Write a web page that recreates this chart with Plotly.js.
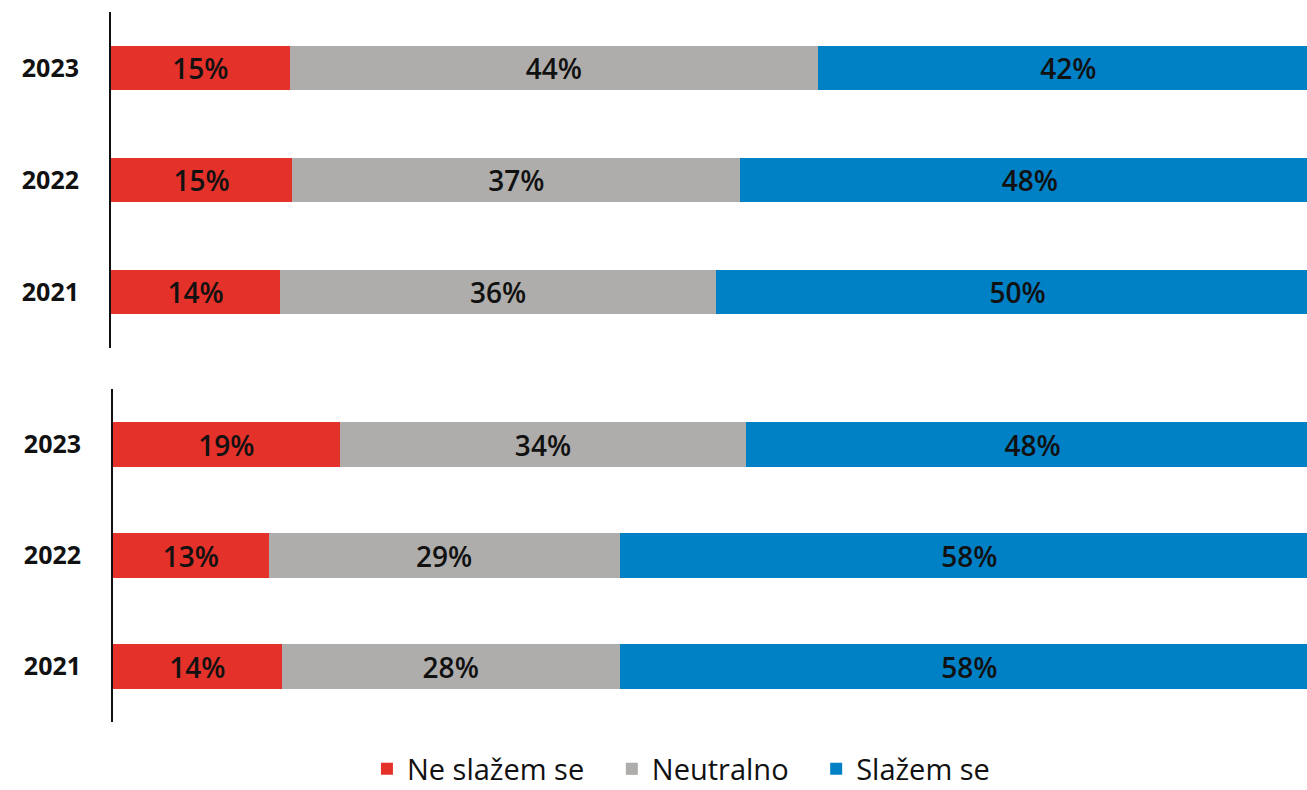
<!DOCTYPE html>
<html>
<head>
<meta charset="utf-8">
<script src="https://cdn.plot.ly/plotly-3.0.1.min.js"></script>
<style>html,body{margin:0;padding:0;background:#fff;}#chart{width:1307px;height:790px;}</style>
</head>
<body>
<div id="chart"></div>
<script>
// Categories (bottom to top)
const years = ['2021', '2022', '2023'];
const seriesNames = ['Ne slažem se', 'Neutralno', 'Slažem se'];

// Top panel values (%)
const topDisagree = [14.0, 15.0, 14.8];
const topNeutral  = [36.1, 37.1, 43.7];
const topAgree    = [49.9, 47.9, 41.5];
const topDisagreeLbl = ['14%', '15%', '15%'];
const topNeutralLbl  = ['36%', '37%', '44%'];
const topAgreeLbl    = ['50%', '48%', '42%'];

// Bottom panel values (%)
const botDisagree = [14.0, 12.9, 18.8];
const botNeutral  = [28.0, 29.1, 33.7];
const botAgree    = [58.0, 58.0, 47.5];
const botDisagreeLbl = ['14%', '13%', '19%'];
const botNeutralLbl  = ['28%', '29%', '34%'];
const botAgreeLbl    = ['58%', '58%', '48%'];

const colors = ['#E4312A', '#AEADAB', '#0080C5'];
const FONT = 'Open Sans, Noto Sans, sans-serif';
const PAD = '\u00a0\u00a0\u00a0';

function mk(x, labels, idx, xa, ya, showlegend) {
  return {
    type: 'bar', orientation: 'h',
    x: x, y: years, name: seriesNames[idx] + (idx < 2 ? PAD : ''),
    xaxis: xa, yaxis: ya,
    marker: {color: colors[idx], line: {width: 0}},
    text: labels, textposition: 'inside', insidetextanchor: 'middle',
    textfont: {family: FONT, size: 28, color: '#111', weight: 600},
    constraintext: 'none',
    showlegend: showlegend, legendgroup: 'g' + idx,
    hoverinfo: 'skip'
  };
}

const data = [
  mk(topDisagree, topDisagreeLbl, 0, 'x', 'y', true),
  mk(topNeutral, topNeutralLbl, 1, 'x', 'y', true),
  mk(topAgree, topAgreeLbl, 2, 'x', 'y', true),
  mk(botDisagree, botDisagreeLbl, 0, 'x2', 'y2', false),
  mk(botNeutral, botNeutralLbl, 1, 'x2', 'y2', false),
  mk(botAgree, botAgreeLbl, 2, 'x2', 'y2', false)
];

const H = 790;
const yax = (dom, anchor) => ({
  domain: dom, anchor: anchor, type: 'category',
  categoryorder: 'array', categoryarray: years,
  showline: true, linecolor: '#111', linewidth: 2,
  showgrid: false, zeroline: false, ticks: '',
  ticklabelstandoff: 25, automargin: false,
  tickfont: {family: FONT, size: 25, color: '#111', weight: 700},
  fixedrange: true
});
const xax = (dom, anchor) => ({
  domain: dom, anchor: anchor, range: [0, 99],
  showline: false, showgrid: false, zeroline: false,
  showticklabels: false, ticks: '', fixedrange: true, automargin: false
});

const layout = {
  width: 1307, height: 790,
  margin: {l: 111, r: 0, t: 0, b: 0, autoexpand: false},
  paper_bgcolor: '#fff', plot_bgcolor: 'rgba(0,0,0,0)',
  barmode: 'stack', bargap: 0.6,
  xaxis: xax([0, 1], 'y'),
  xaxis2: xax([0.0017, 1], 'y2'),
  yaxis: yax([1 - 348 / H, 1 - 12 / H], 'x'),
  yaxis2: yax([1 - 722 / H, 1 - 389 / H], 'x2'),
  showlegend: true,
  legend: {
    orientation: 'h', xref: 'container', yref: 'container',
    x: 0.521, xanchor: 'center', y: 1 - 769 / H, yanchor: 'middle',
    font: {family: FONT, size: 29, color: '#111', weight: 500},
    itemwidth: 30, traceorder: 'normal',
    bgcolor: 'rgba(0,0,0,0)'
  },
  font: {family: FONT}
};

Plotly.newPlot('chart', data, layout, {displayModeBar: false, staticPlot: true});
</script>
</body>
</html>
